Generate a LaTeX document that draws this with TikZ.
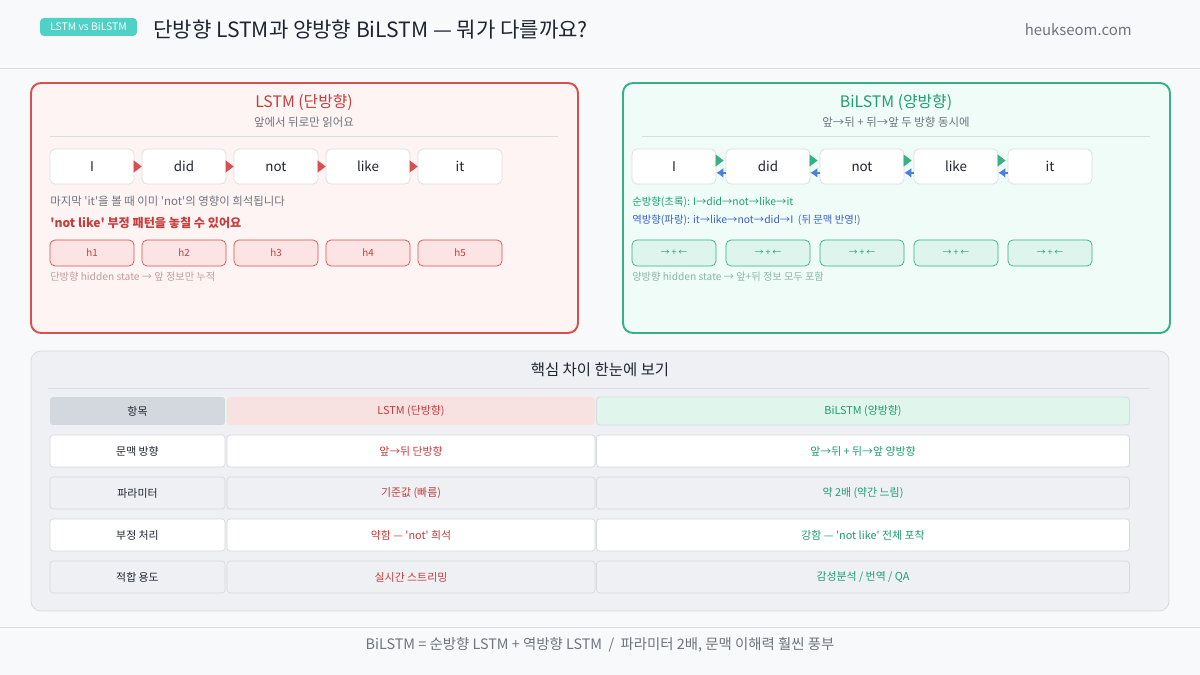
\documentclass[tikz,border=0pt]{standalone}
\usepackage{fontspec}
\setmainfont{Noto Sans CJK KR}[Ligatures=TeXOff]
\usepackage{xcolor}
\usetikzlibrary{arrows.meta, positioning}

\definecolor{pagebg}{HTML}{F8F9FB}
\definecolor{rulegray}{HTML}{DADDE2}
\definecolor{tealtag}{HTML}{4FD1C5}
\definecolor{inkdark}{HTML}{1F2430}
\definecolor{inkgray}{HTML}{6F747D}
\definecolor{lstmred}{HTML}{C63D3D}
\definecolor{lstmline}{HTML}{D65050}
\definecolor{lstmbg}{HTML}{FFF4F4}
\definecolor{lstmcell}{HTML}{FCE4E4}
\definecolor{lstmnote}{HTML}{C49A9A}
\definecolor{bigreen}{HTML}{1E9E70}
\definecolor{biline}{HTML}{35B088}
\definecolor{bibg}{HTML}{EFFCF8}
\definecolor{bicell}{HTML}{DDF5EC}
\definecolor{binote}{HTML}{86B8A5}
\definecolor{biblue}{HTML}{3F5FC4}
\definecolor{arrowblue}{HTML}{4A7FE0}
\definecolor{tablebg}{HTML}{EEF0F3}
\definecolor{tableline}{HTML}{D6D9DE}
\definecolor{headgray}{HTML}{D3D7DE}
\definecolor{headred}{HTML}{F8E1E1}
\definecolor{headgreen}{HTML}{E0F5EC}

\tikzset{
	wordbox/.style={draw=rulegray, fill=white, rounded corners=0.1cm, minimum width=1.68cm, minimum height=0.7cm, inner sep=0pt, text=inkdark, font=\fontsize{7.6}{9}\selectfont},
	unicell/.style={draw=lstmline, fill=lstmcell, rounded corners=0.1cm, minimum width=1.68cm, minimum height=0.52cm, inner sep=0pt, text=lstmred, font=\fontsize{5.6}{7}\selectfont},
	bicellbox/.style={draw=biline, fill=bicell, rounded corners=0.1cm, minimum width=1.68cm, minimum height=0.52cm, inner sep=0pt, text=bigreen, font=\fontsize{5}{6}\selectfont},
	note/.style={anchor=west, inner sep=0pt, font=\fontsize{5.9}{8}\selectfont},
	cellA/.style={draw=tableline, rounded corners=0.06cm, minimum width=3.5cm, minimum height=0.64cm, inner sep=0pt, font=\fontsize{6.2}{8}\selectfont},
	cellB/.style={cellA, minimum width=7.36cm, text=lstmred},
	cellC/.style={cellA, minimum width=10.66cm, text=bigreen},
}

\begin{document}
\begin{tikzpicture}[x=0.02cm, y=-0.02cm]
		\useasboundingbox (0,0) rectangle (1200,675);
		\fill[pagebg] (0,0) rectangle (1200,675);

		% Header
		\draw[rulegray] (0,68) -- (1200,68);
		\node[fill=tealtag, rounded corners=0.08cm, minimum width=1.94cm, minimum height=0.36cm, inner sep=0pt, text=white, font=\fontsize{5.9}{7}\selectfont] (tag) at (88.5,27) {LSTM vs BiLSTM};
		\node[anchor=west, inner sep=0pt, text=inkdark, font=\fontsize{12}{14}\selectfont] (title) at (153,30) {단방향 LSTM과 양방향 BiLSTM — 뭐가 다를까요?};
		\node[anchor=east, inner sep=0pt, text=inkgray, font=\fontsize{8.5}{10}\selectfont] (site) at (1132,30) {heukseom.com};

		% LSTM panel
		\draw[lstmline, fill=lstmbg, line width=1.1pt, rounded corners=0.2cm] (31,83) rectangle (578,333);
		\node[text=lstmred, font=\fontsize{9}{10}\selectfont] (uniT) at (304,102) {LSTM (단방향)};
		\node[text=inkgray, font=\fontsize{6.5}{8}\selectfont] (uniS) at (304,122) {앞에서 뒤로만 읽어요};
		\draw[rulegray] (50,136) -- (558,136);

		\node[wordbox] (uni-1) at (92,166.5) {I};
		\node[wordbox] (uni-2) at (184,166.5) {did};
		\node[wordbox] (uni-3) at (276,166.5) {not};
		\node[wordbox] (uni-4) at (368,166.5) {like};
		\node[wordbox] (uni-5) at (460,166.5) {it};

		\draw[lstmline, -{Triangle[length=0.16cm,width=0.24cm]}] (uni-1) -- (uni-2);
		\draw[lstmline, -{Triangle[length=0.16cm,width=0.24cm]}] (uni-2) -- (uni-3);
		\draw[lstmline, -{Triangle[length=0.16cm,width=0.24cm]}] (uni-3) -- (uni-4);
		\draw[lstmline, -{Triangle[length=0.16cm,width=0.24cm]}] (uni-4) -- (uni-5);

		\node[note, text=inkgray, font=\fontsize{6.5}{8}\selectfont] (uniN1) at (50,201) {마지막 'it'을 볼 때 이미 'not'의 영향이 희석됩니다};
		\node[note, text=lstmred, font=\fontsize{6.9}{9}\selectfont\bfseries] (uniN2) at (50,223) {'not like' 부정 패턴을 놓칠 수 있어요};

		\node[unicell] (uniH-1) at (92,253) {h1};
		\node[unicell] (uniH-2) at (184,253) {h2};
		\node[unicell] (uniH-3) at (276,253) {h3};
		\node[unicell] (uniH-4) at (368,253) {h4};
		\node[unicell] (uniH-5) at (460,253) {h5};
		\node[note, text=lstmnote, font=\fontsize{5.8}{7}\selectfont] (uniN3) at (50,277) {단방향 hidden state → 앞 정보만 누적};

		% BiLSTM panel
		\draw[biline, fill=bibg, line width=1.1pt, rounded corners=0.2cm] (623,83) rectangle (1170,333);
		\node[text=bigreen, font=\fontsize{9}{10}\selectfont] (biT) at (896,102) {BiLSTM (양방향)};
		\node[text=inkgray, font=\fontsize{6.5}{8}\selectfont] (biS) at (896,122) {앞→뒤 + 뒤→앞 두 방향 동시에};
		\draw[rulegray] (642,136) -- (1150,136);

		\node[wordbox] (bi-1) at (674,166.5) {I};
		\node[wordbox] (bi-2) at (768,166.5) {did};
		\node[wordbox] (bi-3) at (862,166.5) {not};
		\node[wordbox] (bi-4) at (956,166.5) {like};
		\node[wordbox] (bi-5) at (1050,166.5) {it};

		\draw[biline, shorten >=1.2pt, -{Triangle[length=0.16cm,width=0.24cm]}] ([yshift=3.4pt]bi-1.east) -- ([yshift=3.4pt]bi-2.west);
		\draw[biline, shorten >=1.2pt, -{Triangle[length=0.16cm,width=0.24cm]}] ([yshift=3.4pt]bi-2.east) -- ([yshift=3.4pt]bi-3.west);
		\draw[biline, shorten >=1.2pt, -{Triangle[length=0.16cm,width=0.24cm]}] ([yshift=3.4pt]bi-3.east) -- ([yshift=3.4pt]bi-4.west);
		\draw[biline, shorten >=1.2pt, -{Triangle[length=0.16cm,width=0.24cm]}] ([yshift=3.4pt]bi-4.east) -- ([yshift=3.4pt]bi-5.west);
		\draw[arrowblue, line width=1pt, {Latex[length=0.14cm,width=0.2cm]}-] ([yshift=-3.6pt]bi-1.east) -- ([yshift=-3.6pt]bi-2.west);
		\draw[arrowblue, line width=1pt, {Latex[length=0.14cm,width=0.2cm]}-] ([yshift=-3.6pt]bi-2.east) -- ([yshift=-3.6pt]bi-3.west);
		\draw[arrowblue, line width=1pt, {Latex[length=0.14cm,width=0.2cm]}-] ([yshift=-3.6pt]bi-3.east) -- ([yshift=-3.6pt]bi-4.west);
		\draw[arrowblue, line width=1pt, {Latex[length=0.14cm,width=0.2cm]}-] ([yshift=-3.6pt]bi-4.east) -- ([yshift=-3.6pt]bi-5.west);

		\node[note, text=bigreen] (biN1) at (632,202) {순방향(초록): I→did→not→like→it};
		\node[note, text=biblue] (biN2) at (632,220) {역방향(파랑): it→like→not→did→I\ \ (뒤 문맥 반영!)};

		\node[bicellbox] (biH-1) at (674,253) {→ + ←};
		\node[bicellbox] (biH-2) at (768,253) {→ + ←};
		\node[bicellbox] (biH-3) at (862,253) {→ + ←};
		\node[bicellbox] (biH-4) at (956,253) {→ + ←};
		\node[bicellbox] (biH-5) at (1050,253) {→ + ←};
		\node[note, text=binote, font=\fontsize{5.8}{7}\selectfont] (biN3) at (632,277) {양방향 hidden state → 앞+뒤 정보 모두 포함};

		% Comparison table
		\draw[tableline, fill=tablebg, rounded corners=0.2cm] (31,351) rectangle (1169,611);
		\node[text=inkdark, font=\fontsize{8.8}{10}\selectfont] (tabT) at (600,370) {핵심 차이 한눈에 보기};
		\draw[rulegray] (48,388) -- (1150,388);

		\node[cellA, draw=none, fill=headgray, minimum height=0.56cm, text=inkdark] (row0-1) at (137.5,411) {항목};
		\node[cellB, draw=none, fill=headred, minimum height=0.56cm] (row0-2) at (411,411) {LSTM (단방향)};
		\node[cellC, fill=headgreen, minimum height=0.56cm] (row0-3) at (863,411) {BiLSTM (양방향)};

		\node[cellA, fill=white, text=inkdark] (row1-1) at (137.5,451) {문맥 방향};
		\node[cellB, fill=white] (row1-2) at (411,451) {앞→뒤 단방향};
		\node[cellC, fill=white] (row1-3) at (863,451) {앞→뒤 + 뒤→앞 양방향};

		\node[cellA, fill=tablebg, text=inkdark] (row2-1) at (137.5,493) {파라미터};
		\node[cellB, fill=tablebg] (row2-2) at (411,493) {기준값 (빠름)};
		\node[cellC, fill=tablebg] (row2-3) at (863,493) {약 2배 (약간 느림)};

		\node[cellA, fill=white, text=inkdark] (row3-1) at (137.5,535) {부정 처리};
		\node[cellB, fill=white] (row3-2) at (411,535) {약함 — 'not' 희석};
		\node[cellC, fill=white] (row3-3) at (863,535) {강함 — 'not like' 전체 포착};

		\node[cellA, fill=tablebg, text=inkdark] (row4-1) at (137.5,577) {적합 용도};
		\node[cellB, fill=tablebg] (row4-2) at (411,577) {실시간 스트리밍};
		\node[cellC, fill=tablebg] (row4-3) at (863,577) {감성분석 / 번역 / QA};

		% Footer
		\draw[rulegray] (0,627) -- (1200,627);
		\node[text=inkgray, font=\fontsize{8.2}{9}\selectfont] (foot) at (600,645) {BiLSTM = 순방향 LSTM + 역방향 LSTM\ \ /\ \ 파라미터 2배, 문맥 이해력 훨씬 풍부};
	\end{tikzpicture}
\end{document}
